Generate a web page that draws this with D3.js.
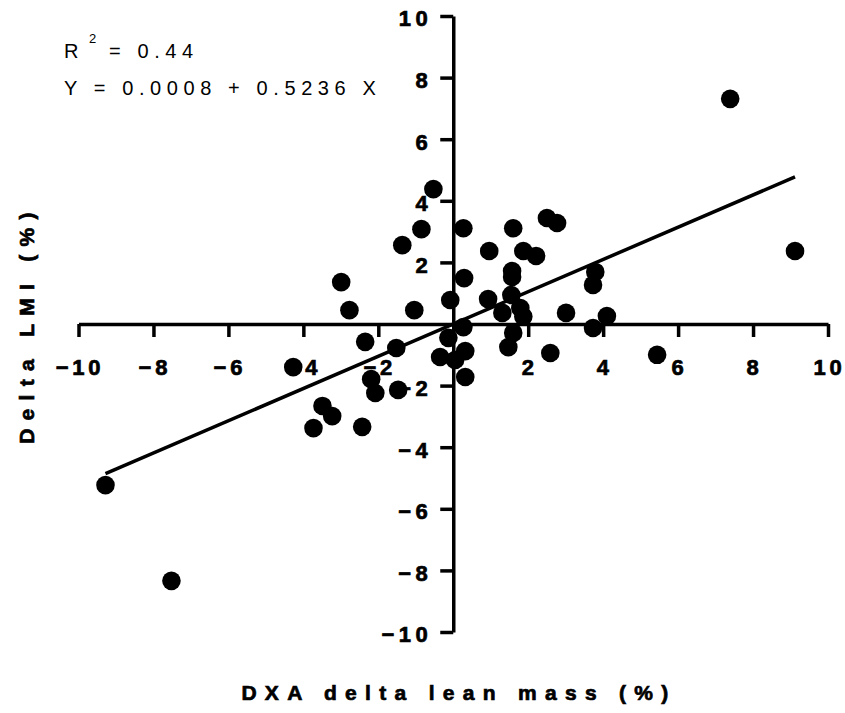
<!DOCTYPE html>
<html>
<head>
<meta charset="utf-8">
<script src="https://cdn.jsdelivr.net/npm/d3@7"></script>
<style>
  html, body { margin: 0; padding: 0; background: #fff; }
  svg { display: block; }
  text { font-family: "Liberation Sans", Arial, sans-serif; fill: #000; }
</style>
</head>
<body>
<div id="chart"></div>
<script>
// ---- data ----
const xValues = [7.39, 9.12, -9.28, -7.52, -0.53, -0.85, -1.36, -2.99, -2.77, -1.04,
  -0.08, -2.35, -1.52, -4.27, -2.19, -2.08, -1.47, -3.49, -3.23, -3.73,
  -2.43, -0.13, -0.35, 0.27, 1.60, 2.50, 2.77, 0.96, 1.87, 2.21,
  1.57, 1.57, 0.29, 3.79, 3.73, 0.93, 1.55, 1.79, 1.31, 1.87,
  3.01, 4.10, 3.73, 0.27, 1.60, 1.47, 2.59, 0.32, 0.05, 0.32, 5.44];
const yValues = [7.31, 2.37, -5.23, -8.34, 4.38, 3.08, 2.56, 1.36, 0.45, 0.45,
  0.78, -0.58, -0.78, -1.40, -1.79, -2.24, -2.14, -2.66, -2.99, -3.38,
  -3.34, -0.45, -1.07, 3.11, 3.11, 3.44, 3.28, 2.37, 2.37, 2.21,
  1.72, 1.53, 1.49, 1.69, 1.27, 0.81, 0.94, 0.52, 0.36, 0.24,
  0.36, 0.26, -0.13, -0.10, -0.29, -0.75, -0.94, -0.88, -1.17, -1.72, -1.00];
const intercept = 0.0008;
const slope = 0.5236;
const xTicks = [-10, -8, -6, -4, -2, 2, 4, 6, 8, 10];
const yTicks = [-10, -8, -6, -4, -2, 2, 4, 6, 8, 10];
const xTitle = "DXA delta lean mass (%)";
const yTitle = "Delta LMI (%)";
const r2Label = "R";
const r2Sup = "2";
const r2Value = "= 0.44";
const eqLabel = "Y = 0.0008 + 0.5236 X";

// ---- layout ----
const W = 845, H = 713;
const svg = d3.select("#chart").append("svg").attr("width", W).attr("height", H);

const x = d3.scaleLinear().domain([-10, 10]).range([78.5, 828]);
const y = d3.scaleLinear().domain([-10, 10]).range([632, 16]);

const AXW = 3.5;

function boldText(sel, size, spacing) {
  sel.style("font-size", size + "px").style("font-weight", "bold")
    .style("letter-spacing", spacing + "px")
    .attr("fill", "#000").attr("stroke", "#000").attr("stroke-width", 0.7);
}

// x axis
const gx = svg.append("g")
  .attr("transform", `translate(0,${y(0)})`)
  .call(d3.axisBottom(x).tickValues(xTicks).tickSize(13).tickSizeOuter(0).tickFormat(d3.format("d")));
gx.attr("font-family", null).attr("font-size", null);
gx.select(".domain").attr("stroke", "#000").attr("stroke-width", AXW);
gx.selectAll(".tick line").attr("stroke", "#000").attr("stroke-width", AXW);
gx.selectAll(".tick text")
  .attr("y", 51).attr("dy", 0).attr("dx", 1)
  .attr("text-anchor", "middle")
  .call(boldText, 22, 3.8);

// y axis
const gy = svg.append("g")
  .attr("transform", `translate(${x(0)},0)`)
  .call(d3.axisLeft(y).tickValues(yTicks).tickSize(13).tickSizeOuter(0).tickFormat(d3.format("d")));
gy.attr("font-family", null).attr("font-size", null);
gy.select(".domain").attr("stroke", "#000").attr("stroke-width", AXW);
gy.selectAll(".tick line").attr("stroke", "#000").attr("stroke-width", AXW);
gy.selectAll(".tick text")
  .attr("x", -21).attr("dy", "0.45em")
  .attr("text-anchor", "end")
  .call(boldText, 22, 4.5);

// regression line over data range
const ext = d3.extent(xValues);
svg.append("line")
  .attr("x1", x(ext[0])).attr("y1", y(intercept + slope * ext[0]))
  .attr("x2", x(ext[1])).attr("y2", y(intercept + slope * ext[1]))
  .attr("stroke", "#000").attr("stroke-width", 3.5);

// points
const pts = xValues.map((v, i) => ({ x: v, y: yValues[i] }));
svg.append("g").selectAll("circle").data(pts).join("circle")
  .attr("cx", d => x(d.x)).attr("cy", d => y(d.y))
  .attr("r", 9.3).attr("fill", "#000");

// annotation
svg.append("text").attr("x", 64).attr("y", 58)
  .style("font-size", "20px").style("letter-spacing", "5.5px").text(r2Label);
svg.append("text").attr("x", 89).attr("y", 43)
  .style("font-size", "13px").text(r2Sup);
svg.append("text").attr("x", 109).attr("y", 58)
  .style("font-size", "20px").style("letter-spacing", "5.6px").text(r2Value);
svg.append("text").attr("x", 64).attr("y", 95)
  .style("font-size", "20px").style("letter-spacing", "5.6px").text(eqLabel);

// axis titles
svg.append("text")
  .attr("x", 455 + 4).attr("y", 700)
  .attr("text-anchor", "middle")
  .call(boldText, 21, 8.3)
  .text(xTitle);
svg.append("text")
  .attr("transform", `translate(34,${326 - 2}) rotate(-90)`)
  .attr("text-anchor", "middle")
  .call(boldText, 21, 8.3)
  .text(yTitle);
</script>
</body>
</html>
